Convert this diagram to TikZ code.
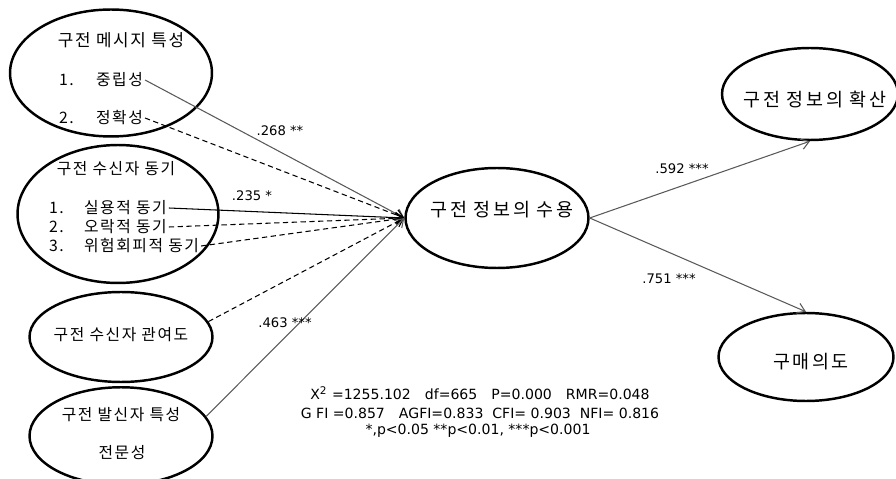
\documentclass[tikz,border=0pt]{standalone}
\usepackage{fontspec}
\setmainfont{DejaVu Sans}
\newfontfamily\kr[LetterSpace=10]{Noto Sans CJK KR}
\newfontfamily\krwide[LetterSpace=14]{Noto Sans CJK KR}
\usetikzlibrary{positioning,arrows.meta,shapes.geometric}

\begin{document}
\begin{tikzpicture}[x=0.02cm, y=-0.02cm,
  latent/.style={draw, ellipse, line width=1.4pt, inner sep=0pt},
  ktext/.style={font=\kr\fontsize{9}{11}\selectfont, inner sep=1pt},
  khead/.style={font=\kr\fontsize{9.6}{11}\selectfont, inner sep=1pt},
  kbig/.style={font=\krwide\fontsize{10.5}{12}\selectfont, inner sep=1pt},
  coef/.style={font=\fontsize{7.5}{9}\selectfont, inner sep=1pt},
  stat/.style={font=\fontsize{8}{10}\selectfont, inner sep=1pt},
  fitline/.style={-{Straight Barb[length=4.5pt,width=6pt]}, line width=0.6pt},
  sigline/.style={fitline, black!65},
  nsline/.style={fitline, dash pattern=on 3pt off 2pt}]
\useasboundingbox (0,0) rectangle (896,479);

% latent variables
\node[latent, minimum width=4.04cm, minimum height=2.54cm] (msg) at (111,73) {};
\node[latent, minimum width=4.02cm, minimum height=2.76cm] (motive) at (118,214) {};
\node[latent, minimum width=3.66cm, minimum height=1.8cm] (invol) at (121,337) {};
\node[latent, minimum width=3.66cm, minimum height=1.95cm] (sender) at (121,436) {};
\node[latent, minimum width=3.66cm, minimum height=2.0cm] (accept) at (497,218) {};
\node[latent, minimum width=3.52cm, minimum height=1.84cm] (diffuse) at (810,94) {};
\node[latent, minimum width=3.5cm, minimum height=1.76cm] (purchase) at (806,357) {};

% texts
\node[khead] (msgtitle) at (121,40) {구전 메시지 특성};
\node[ktext, anchor=west] (m1) at (57,80) {1.};
\node[ktext, anchor=west] (neutral) at (94,80) {중립성};
\node[ktext, anchor=west] (m2) at (57,118) {2.};
\node[ktext, anchor=west] (exact) at (94,118) {정확성};

\node[ktext] (motivetitle) at (116,169) {구전 수신자 동기};
\node[ktext, anchor=west] (d1) at (47,208) {1.};
\node[ktext, anchor=west] (util) at (82,208) {실용적 동기};
\node[ktext, anchor=west] (d2) at (47,227) {2.};
\node[ktext, anchor=west] (fun) at (82,227) {오락적 동기};
\node[ktext, anchor=west] (d3) at (47,246) {3.};
\node[ktext, anchor=west] (risk) at (82,246) {위험회피적 동기};

\node[ktext] (involtext) at (121,335) {구전 수신자 관여도};
\node[ktext] (sendertitle) at (121,415) {구전 발신자 특성};
\node[ktext] (expert) at (122,453) {전문성};

\node[kbig] (accepttext) at (502,210) {구전 정보의 수용};
\node[kbig] (diffusetext) at (815,100) {구전 정보의 확산};
\node[kbig] (purchasetext) at (811,362) {구매의도};

% paths
\draw[sigline] (neutral.east) -- (accept.west);
\draw[nsline] (exact.east) -- (accept.west);
\draw[fitline] (util.east) -- (accept.west);
\draw[nsline] (fun.east) -- (accept.west);
\draw[nsline] (risk.east) -- (accept.west);
\draw[nsline] (invol.10) -- (accept.west);
\draw[sigline] (sender.13) -- (accept.west);
\draw[sigline] (accept.east) -- (diffuse.south);
\draw[sigline] (accept.east) -- (purchase.north);

% coefficients
\node[coef] (c268) at (280,131) {.268 **};
\node[coef] (c235) at (252,196) {.235 *};
\node[coef] (c463) at (285,323) {.463 ***};
\node[coef] (c592) at (682,169) {.592 ***};
\node[coef] (c751) at (669,279) {.751 ***};

% fit indices
\node[stat] (fit1) at (480,393) {X\textsuperscript{2} =1255.102\quad df=665\quad P=0.000\quad RMR=0.048};
\node[stat] (fit2) at (480,413) {G FI =0.857\quad AGFI=0.833\ \ CFI= 0.903\ \ NFI= 0.816};
\node[stat] (fit3) at (478,431) {*,p<0.05 **p<0.01, ***p<0.001};
\end{tikzpicture}
\end{document}
